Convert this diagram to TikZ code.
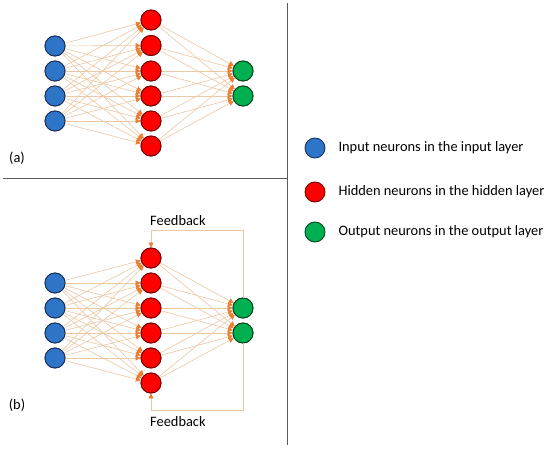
\documentclass[tikz,border=0pt]{standalone}
\usepackage{fontspec}
\setmainfont{Carlito}
\usetikzlibrary{arrows.meta}

\definecolor{inblue}{RGB}{46,117,200}
\definecolor{inborder}{RGB}{25,50,95}
\definecolor{hidred}{RGB}{255,0,0}
\definecolor{hidborder}{RGB}{120,0,0}
\definecolor{outgreen}{RGB}{0,176,80}
\definecolor{outborder}{RGB}{0,70,30}
\definecolor{linktan}{RGB}{236,200,165}
\definecolor{tiporange}{RGB}{237,125,49}
\definecolor{rulegray}{RGB}{90,90,90}

\begin{document}
\begin{tikzpicture}[x=1pt,y=-1pt,
	neuron/.style={circle,draw,line width=0.9pt,minimum size=20pt,inner sep=0pt},
	inp/.style={neuron,fill=inblue,draw=inborder},
	hid/.style={neuron,fill=hidred,draw=hidborder},
	outp/.style={neuron,fill=outgreen,draw=outborder},
	link/.style={draw=linktan,line width=0.6pt,-{Triangle[length=5pt,width=5pt,color=tiporange]}},
	label/.style={font=\fontsize{14.4}{17}\selectfont}]
	
	\useasboundingbox (0,0) rectangle (550,450);
	\fill[white] (0,0) rectangle (550,450);
	
	% panel rules
	\draw[rulegray,line width=0.8pt] (287,3) -- (287,445);
	\draw[rulegray,line width=0.8pt] (3,178) -- (287,178);
	
	% (a) neurons
	\node[inp] (ai1) at (55,46) {};
	\node[inp] (ai2) at (55,71) {};
	\node[inp] (ai3) at (55,96) {};
	\node[inp] (ai4) at (55,121) {};
	\node[hid] (ah1) at (151,20) {};
	\node[hid] (ah2) at (151,45.5) {};
	\node[hid] (ah3) at (151,71) {};
	\node[hid] (ah4) at (151,96) {};
	\node[hid] (ah5) at (151,121) {};
	\node[hid] (ah6) at (151,146) {};
	\node[outp] (ao1) at (243,71) {};
	\node[outp] (ao2) at (243,96) {};
	
	% (b) neurons
	\node[inp] (bi1) at (55,283) {};
	\node[inp] (bi2) at (55,308) {};
	\node[inp] (bi3) at (55,333) {};
	\node[inp] (bi4) at (55,358) {};
	\node[hid] (bh1) at (151,258) {};
	\node[hid] (bh2) at (151,283) {};
	\node[hid] (bh3) at (151,308) {};
	\node[hid] (bh4) at (151,333) {};
	\node[hid] (bh5) at (151,358) {};
	\node[hid] (bh6) at (151,383) {};
	\node[outp] (bo1) at (243,308) {};
	\node[outp] (bo2) at (243,333) {};
	
	% connections
	\foreach \p in {a,b} {
		\foreach \i in {1,...,4}
			\foreach \h in {1,...,6}
				\draw[link] (\p i\i) -- (\p h\h);
		\foreach \h in {1,...,6}
			\foreach \o in {1,2}
				\draw[link] (\p h\h) -- (\p o\o);
	}
	
	% redraw neurons on top of the links
	\foreach \n in {ai1,ai2,ai3,ai4,bi1,bi2,bi3,bi4}
		\node[inp] at (\n) {};
	\foreach \n in {ah1,ah2,ah3,ah4,ah5,ah6,bh1,bh2,bh3,bh4,bh5,bh6}
		\node[hid] at (\n) {};
	\foreach \n in {ao1,ao2,bo1,bo2}
		\node[outp] at (\n) {};
	
	% feedback loops
	\coordinate (fbtop) at (151,230);
	\coordinate (fbbot) at (151,410);
	\draw[link] (bo1.north) |- (fbtop) -- (bh1.north);
	\draw[link] (bo2.south) |- (fbbot) -- (bh6.south);
	\node[label,anchor=south west,inner sep=0pt] (fbtxt1) at (150,226) {Feedback};
	\node[label,anchor=north west,inner sep=0pt] (fbtxt2) at (150,416) {Feedback};
	
	% panel labels
	\node[label] (la) at (17,158) {(a)};
	\node[label] (lb) at (17,405) {(b)};
	
	% legend
	\node[inp] (kin) at (315,148) {};
	\node[hid] (khid) at (315,192) {};
	\node[outp] (kout) at (315,232) {};
	\node[label,right=20pt] (tin) at (kin) {Input neurons in the input layer};
	\node[label,right=20pt] (thid) at (khid) {Hidden neurons in the hidden layer};
	\node[label,right=20pt] (tout) at (kout) {Output neurons in the output layer};
	
\end{tikzpicture}
\end{document}
